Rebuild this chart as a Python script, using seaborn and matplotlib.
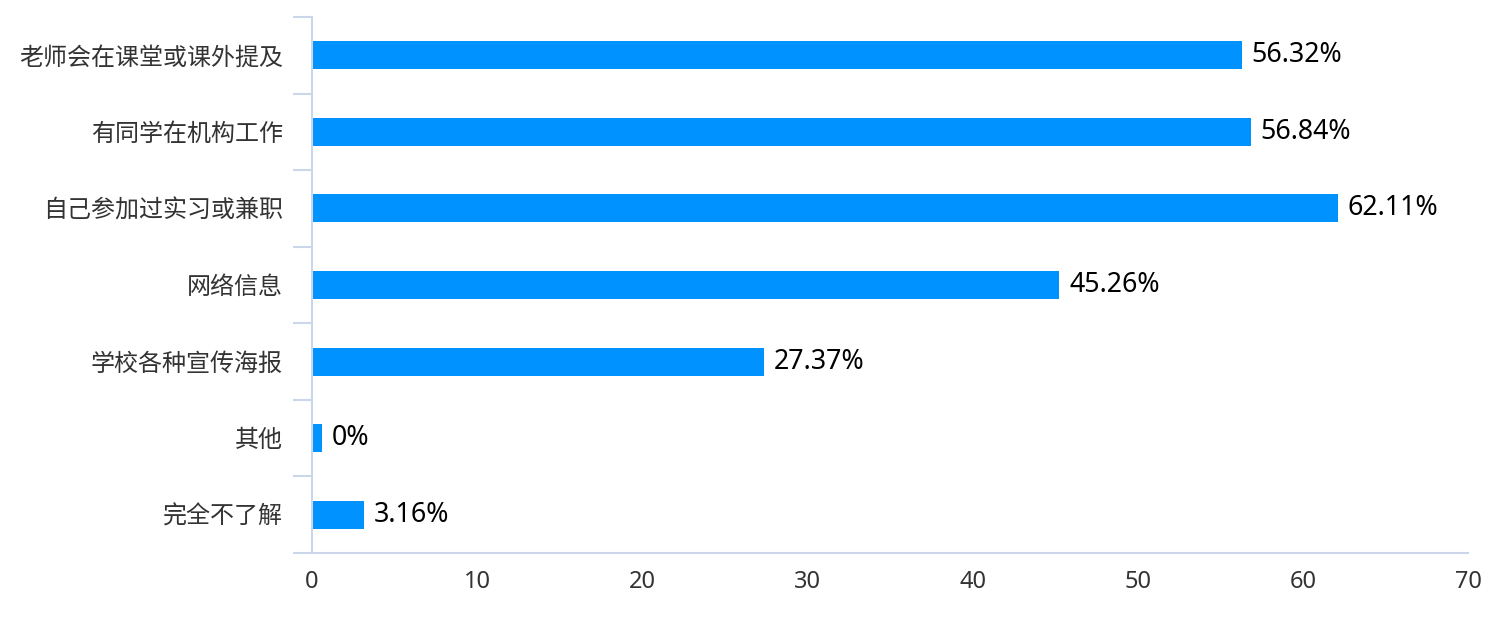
import numpy as np
import pandas as pd
import seaborn as sns
import matplotlib.pyplot as plt
from matplotlib.ticker import FixedLocator

# ── Data ─────────────────────────────────────────────────────────────────────
categories = ["老师会在课堂或课外提及", "有同学在机构工作", "自己参加过实习或兼职",
              "网络信息", "学校各种宣传海报", "其他", "完全不了解"]
percent = [56.32, 56.84, 62.11, 45.26, 27.37, 0, 3.16]
value_labels = ["56.32%", "56.84%", "62.11%", "45.26%", "27.37%", "0%", "3.16%"]
x_ticks = [0, 10, 20, 30, 40, 50, 60, 70]

# a zero bar still gets a small stub, like the original chart's min bar width
MIN_BAR = 0.6
shown = np.maximum(percent, MIN_BAR)

BAR_COLOR = "#0093FF"
AXIS_COLOR = "#CCD6EB"
TEXT_COLOR = "#333333"

sns.set_theme(style="white")
plt.rcParams["font.family"] = ["Noto Sans", "Noto Sans CJK SC", "DejaVu Sans"]

df = pd.DataFrame({"category": categories, "shown": shown})

fig = plt.figure(figsize=(14.98, 6.17), dpi=100)
ax = fig.add_axes([312 / 1498, 64 / 617, 1156 / 1498, 536 / 617])

sns.barplot(data=df, x="shown", y="category", color=BAR_COLOR,
            saturation=1, width=0.366, linewidth=0, ax=ax)

ax.set_xlim(0, 70)
ax.set_ylim(6.5, -0.5)
ax.set_xticks(x_ticks)
ax.set_xlabel("")
ax.set_ylabel("")

# ── Axes styling ─────────────────────────────────────────────────────────────
for side in ["top", "right"]:
    ax.spines[side].set_visible(False)
for side in ["left", "bottom"]:
    ax.spines[side].set_color(AXIS_COLOR)
    ax.spines[side].set_linewidth(1.5)

# category separators drawn as outward minor ticks on the y axis
ax.yaxis.set_minor_locator(FixedLocator(np.arange(-0.5, 7, 1)))
ax.tick_params(axis="y", which="minor", left=True, length=13.7, width=1.5,
               color=AXIS_COLOR, direction="out")
ax.tick_params(axis="y", which="major", left=True, length=0, pad=21,
               labelsize=17.3, labelcolor=TEXT_COLOR)
ax.tick_params(axis="x", which="both", length=0, pad=12,
               labelsize=17, labelcolor=TEXT_COLOR)

# ── Value labels ─────────────────────────────────────────────────────────────
ax.bar_label(ax.containers[0], labels=value_labels, padding=7,
             fontsize=19.3, color="black")

plt.savefig("out.png", dpi=100)
plt.close()
